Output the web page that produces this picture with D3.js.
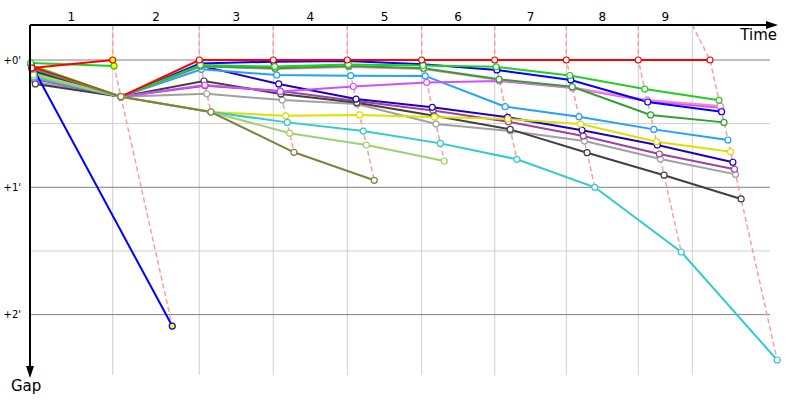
<!DOCTYPE html>
<html>
<head>
<meta charset="utf-8">
<script src="https://cdn.jsdelivr.net/npm/d3@7"></script>
<style>
  body { margin: 0; background: #fff; }
  svg { display: block; font-family: "DejaVu Sans", Verdana, sans-serif; }
</style>
</head>
<body>
<div id="chart"></div>
<script>
/* CONSTANTS AND GLOBALS */
const width = 800,
  height = 400,
  axisY = 25,     // time axis
  axisX = 30,     // gap axis
  gridBottom = 375,
  gridRight = 770;

/* DATA */
// lap labels sit between the grid lines
const lapLabels = ["1", "2", "3", "4", "5", "6", "7", "8", "9"];
// grid lines (seconds from start)
const gridTimes = [0, 174.1, 356.4, 512.2, 668.0, 824.6, 978.3, 1129.1, 1280.6, 1394.3];
// leader's time at the end of each lap (seconds)
const leaderTimes = [0, 174.1, 356.4, 512.2, 668.0, 824.6, 978.3, 1129.1, 1280.6, 1431.6];
// gap ticks (seconds)
const gapTicks = [0, 60, 120];
const gapTickLabels = ["+0'", "+1'", "+2'"];
const gapHalfTicks = [30, 90];

// gap to leader per lap, lap 0 = start (seconds)
const gapRed     = [3.3, 17.3, 0, 0, 0, 0, 0, 0, 0, 0];
const gapGreen   = [2.4, 17.3, 2.4, 3.1, 2.1, 2.6, 3.2, 7.3, 13.7, 19.0];
const gapBlue    = [4.7, 17.3, 1.6, 0.8, 0.5, 2.0, 4.7, 9.4, 19.8, 24.4];
const gapDkGreen = [5.7, 17.3, 2.8, 3.9, 2.8, 3.9, 9.1, 12.6, 25.9, 29.4];
const gapPink    = [6.1, 17.3, 3.1, 4.2, 3.3, 4.2, 9.4, 13.0, 18.9, 21.7];
const gapViolet  = [8.5, 17.3, 11.8, 14.8, 12.5, 10.6, 9.9, 13.2, 19.3, 22.5];
const gapLtBlue  = [7.5, 17.3, 4.4, 7.1, 7.4, 7.5, 22.0, 26.7, 32.7, 37.7];
const gapNavy    = [5.7, 17.3, 2.7, 11.3, 18.4, 22.3, 27.0, 33.1, 40.1, 48.2];
const gapPurple  = [9.0, 17.3, 12.1, 14.6, 19.3, 23.8, 29.1, 35.8, 44.3, 51.5];
const gapBlack   = [11.3, 17.3, 9.9, 16.0, 20.1, 26.3, 32.7, 43.7, 54.3, 65.5];
const gapGray    = [10.4, 17.3, 15.9, 18.9, 20.7, 30.2, 33.5, 38.2, 46.7, 53.9];
const gapYellow  = [6.6, 17.3, 24.5, 26.3, 25.9, 26.9, 27.8, 30.2, 38.5, 43.2];
const gapCyan    = [8.0, 17.3, 24.5, 29.4, 33.5, 39.3, 46.8, 60.0, 90.5, 141.4];
const gapLtGreen = [7.1, 17.3, 24.5, 34.5, 40.1, 47.6];
const gapOlive   = [4.2, 17.3, 24.5, 43.5, 56.7];
// out after lap 1
const gapRedOut   = [3.8, 0];
const gapGreenOut = [1.4, 2.8];
const gapBlueOut  = [1.9, 125.4];

// drawing order: first = bottom
const driverGaps = [gapGray, gapPurple, gapBlack, gapNavy, gapLtBlue, gapViolet, gapPink,
  gapDkGreen, gapBlue, gapGreen, gapRed, gapYellow, gapCyan, gapLtGreen, gapOlive,
  gapBlueOut, gapGreenOut, gapRedOut];
const driverColors = ["#a0a0a0", "#a040a0", "#404040", "#2000c0", "#20a0ff", "#d050ff", "#ff80d0",
  "#30a030", "#0000ff", "#20d020", "#ff0000", "#e0e000", "#30cccc", "#a0d070", "#808040",
  "#0000ff", "#20d020", "#ff0000"];
const outDrivers = [15, 16, 17]; // last point filled yellow

/* SCALES */
const xScale = d3.scaleLinear().domain([0, 1560]).range([axisX, 771]);
const yScale = d3.scaleLinear().domain([0, 120]).range([60, 314.6]);

const svg = d3.select("#chart").append("svg")
  .attr("width", width)
  .attr("height", height);

// points of every driver
const drivers = driverGaps.map((gaps, i) => ({
  color: driverColors[i],
  out: outDrivers.includes(i),
  points: gaps.map((g, lap) => ({ lap, gap: g, x: xScale(leaderTimes[lap] + g), y: yScale(g) }))
}));

/* GRID */
svg.append("g").selectAll("line")
  .data(gapHalfTicks)
  .join("line")
  .attr("x1", axisX).attr("x2", gridRight)
  .attr("y1", d => yScale(d)).attr("y2", d => yScale(d))
  .attr("stroke", "#cfcfcf");

svg.append("g").selectAll("line")
  .data(gridTimes.slice(1))
  .join("line")
  .attr("x1", d => xScale(d)).attr("x2", d => xScale(d))
  .attr("y1", axisY).attr("y2", gridBottom)
  .attr("stroke", "#cfcfcf");

svg.append("g").selectAll("line")
  .data(gapTicks)
  .join("line")
  .attr("x1", axisX).attr("x2", gridRight)
  .attr("y1", d => yScale(d)).attr("y2", d => yScale(d))
  .attr("stroke", "#808080");

// gap labels
svg.append("g")
  .attr("transform", `translate(${axisX - 6},0)`)
  .call(d3.axisLeft(yScale).tickValues(gapTicks).tickFormat((d, i) => gapTickLabels[i]).tickSize(0))
  .call(g => g.select(".domain").remove())
  .selectAll("text")
  .attr("font-family", "DejaVu Sans, Verdana, sans-serif")
  .attr("font-size", 10)
  .attr("fill", "#000");

/* LAP LINES (dashed) */
const lapLine = d3.line().x(d => d[0]).y(d => d[1]);
for (let lap = 1; lap < leaderTimes.length; lap++) {
  const pts = drivers
    .map(d => d.points[lap])
    .filter(p => p)
    .sort((a, b) => a.gap - b.gap)
    .map(p => [p.x, p.y]);
  svg.append("path")
    .attr("d", lapLine([[xScale(gridTimes[lap]), axisY], ...pts]))
    .attr("fill", "none")
    .attr("stroke", "#ff9c9c")
    .attr("stroke-width", 1.5)
    .attr("stroke-dasharray", "5,3");
}

/* DRIVER LINES */
const line = d3.line().x(d => d.x).y(d => d.y);
svg.append("g").selectAll("path")
  .data(drivers)
  .join("path")
  .attr("d", d => line(d.points))
  .attr("fill", "none")
  .attr("stroke", d => d.color)
  .attr("stroke-width", 2);

drivers.forEach(d => {
  svg.append("g").selectAll("circle")
    .data(d.points)
    .join("circle")
    .attr("cx", p => p.x)
    .attr("cy", p => p.y)
    .attr("r", 3)
    .attr("fill", (p, i) => d.out && i === d.points.length - 1 ? "#ffff00" : "#fff")
    .attr("stroke", d.color)
    .attr("stroke-width", 1.2);
});

/* AXES */
svg.append("line")
  .attr("x1", axisX).attr("x2", 768).attr("y1", axisY).attr("y2", axisY)
  .attr("stroke", "#000").attr("stroke-width", 2);
svg.append("path")
  .attr("d", `M778,${axisY} L766,${axisY - 4} L766,${axisY + 4} Z`)
  .attr("fill", "#000");
svg.append("line")
  .attr("x1", axisX).attr("x2", axisX).attr("y1", axisY).attr("y2", 367)
  .attr("stroke", "#000").attr("stroke-width", 2);
svg.append("path")
  .attr("d", `M${axisX},378 L${axisX - 4},366 L${axisX + 4},366 Z`)
  .attr("fill", "#000");

// lap labels
svg.append("g").selectAll("text")
  .data(lapLabels)
  .join("text")
  .attr("x", (d, i) => xScale((gridTimes[i] + gridTimes[i + 1]) / 2))
  .attr("y", 21)
  .attr("text-anchor", "middle")
  .attr("font-size", 12)
  .text(d => d);

svg.append("text")
  .attr("x", 777).attr("y", 40)
  .attr("text-anchor", "end")
  .attr("font-size", 15)
  .text("Time");

svg.append("text")
  .attr("x", 11).attr("y", 391)
  .attr("font-size", 15)
  .text("Gap");
</script>
</body>
</html>
